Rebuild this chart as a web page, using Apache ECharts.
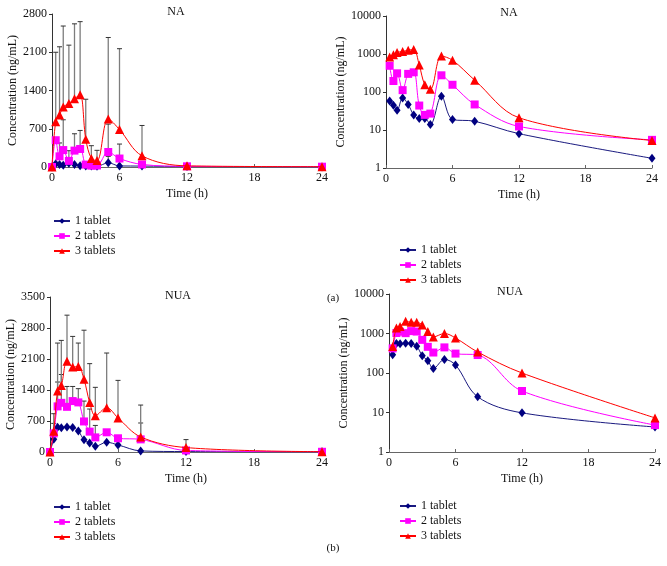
<!DOCTYPE html>
<html>
<head>
<meta charset="utf-8">
<script src="https://cdn.jsdelivr.net/npm/echarts@6/dist/echarts.min.js"></script>
<style>
html,body{margin:0;padding:0;background:#fff;}
#chart{width:667px;height:566px;}
</style>
</head>
<body>
<div id="chart"></div>
<script>
// ---- data ----
var times = [0, 0.33, 0.67, 1, 1.5, 2, 2.5, 3, 3.5, 4, 5, 6, 8, 12, 24];
var seriesNames = ['1 tablet', '2 tablets', '3 tablets'];

var na1 = [0, 58, 45, 33, 70, 47, 25, 20, 20, 14, 77, 19, 17, 8, 1.8];
var na2 = [0, 490, 195, 310, 112, 300, 330, 44, 25, 27, 275, 155, 47, 12.4, 5.5];
var na3 = [0, 830, 950, 1100, 1160, 1250, 1320, 510, 155, 118, 880, 685, 205, 21, 5.3];

// mean + SD (tops of error bars); null = no visible bar
var naTop1 = [null, null, null, null, null, null, null, null, null, null, 195, null, null, null, null];
var naTop2 = [null, null, 440, 864, 298, 608, 669, null, null, null, 785, 420, null, null, null];
var naTop3 = [null, 2100, 2200, 2580, 2230, 2620, 2660, 1240, 390, 305, 2370, 2165, 760, null, null];

var nua1 = [0, 290, 560, 550, 565, 555, 475, 275, 205, 130, 220, 160, 25, 9.8, 4.3];
var nua2 = [0, 420, 1030, 1110, 1020, 1150, 1120, 690, 460, 330, 445, 310, 285, 35, 4.8];
var nua3 = [0, 470, 1380, 1500, 2050, 1920, 1930, 1640, 1120, 820, 1000, 770, 340, 100, 7.3];

var nuaTop1 = [null, null, null, null, null, null, null, null, null, null, null, null, null, null, null];
var nuaTop2 = [null, 646, 1580, 1750, 1480, 1480, 1430, 1150, 970, 600, null, null, 655, null, null];
var nuaTop3 = [null, 865, 2460, 2520, 3090, 2610, 2460, 2750, 1995, 1460, 2235, 1617, 1060, 280, null];

var linTicksNA = {min: 0, max: 2800, interval: 700};
var linTicksNUA = {min: 0, max: 3500, interval: 700};
var xTicks = {min: 0, max: 24, interval: 6};

// ---- styles ----
var FONT = '"Liberation Serif", "DejaVu Serif", serif';
var styles = [
  {color: '#000080', line: '#1a1a80', symbol: 'diamond', size: [7, 9]},
  {color: '#ff00ff', line: '#ff00ff', symbol: 'rect', size: 8},
  {color: '#ff0000', line: '#ff0000', symbol: 'triangle', size: 9}
];

var grids = [
  {left: 52, top: 14, width: 270, height: 153},
  {left: 386, top: 16, width: 266, height: 152},
  {left: 50, top: 297, width: 272, height: 155},
  {left: 389, top: 294, width: 266, height: 158}
];

function plain(v) { return String(v); }

function xAxis(i) {
  return {
    gridIndex: i, type: 'value', min: xTicks.min, max: xTicks.max, interval: xTicks.interval,
    name: 'Time (h)', nameLocation: 'middle', nameGap: 21,
    nameTextStyle: {fontFamily: FONT, fontSize: 12, color: '#111'},
    axisLine: {show: true, lineStyle: {color: '#666', width: 1}},
    axisTick: {show: true, inside: true, length: 3, lineStyle: {color: '#666'}},
    axisLabel: {fontFamily: FONT, fontSize: 12, color: '#111', margin: 5, formatter: plain},
    splitLine: {show: false}
  };
}
function yAxisLin(i, t) {
  return {
    gridIndex: i, type: 'value', min: t.min, max: t.max, interval: t.interval,
    name: 'Concentration (ng/mL)', nameLocation: 'middle', nameGap: 29,
    nameTextStyle: {fontFamily: FONT, fontSize: 12, color: '#111'},
    axisLine: {show: true, lineStyle: {color: '#333', width: 1}},
    axisTick: {show: true, inside: false, length: 3, lineStyle: {color: '#333'}},
    axisLabel: {fontFamily: FONT, fontSize: 12, color: '#111', margin: 5, formatter: plain},
    splitLine: {show: false}
  };
}
function yAxisLog(i) {
  return {
    gridIndex: i, type: 'log', logBase: 10, min: 1, max: 10000,
    name: 'Concentration (ng/mL)', nameLocation: 'middle', nameGap: 33,
    nameTextStyle: {fontFamily: FONT, fontSize: 12, color: '#111'},
    axisLine: {show: true, lineStyle: {color: '#333', width: 1}},
    axisTick: {show: true, inside: false, length: 3, lineStyle: {color: '#333'}},
    axisLabel: {fontFamily: FONT, fontSize: 12, color: '#111', margin: 5, formatter: plain},
    minorTick: {show: false},
    splitLine: {show: false}
  };
}

function pairs(vals, skipZero) {
  var out = [];
  for (var k = 0; k < times.length; k++) {
    if (skipZero && !(vals[k] > 0)) continue;
    out.push([times[k], vals[k]]);
  }
  return out;
}
function lineSeries(gi, si, vals, isLog) {
  var s = styles[si];
  return {
    name: seriesNames[si], type: 'line', xAxisIndex: gi, yAxisIndex: gi,
    data: pairs(vals, isLog), smooth: 0.35,
    symbol: s.symbol, symbolSize: s.size,
    itemStyle: {color: s.color},
    lineStyle: {color: s.line, width: 1},
    z: 3 + si, animation: false
  };
}
function errSeries(gi, vals, tops) {
  var d = [];
  for (var k = 0; k < times.length; k++) {
    if (tops[k] != null) d.push([times[k], vals[k], tops[k]]);
  }
  return {
    type: 'custom', xAxisIndex: gi, yAxisIndex: gi, z: 1, animation: false, silent: true,
    encode: {x: 0, y: [1, 2]},
    data: d,
    renderItem: function (params, api) {
      var p0 = api.coord([api.value(0), api.value(1)]);
      var p1 = api.coord([api.value(0), api.value(2)]);
      return {type: 'group', children: [
        {type: 'line', shape: {x1: p0[0], y1: p0[1], x2: p1[0], y2: p1[1]}, style: {stroke: '#7d7d7d', lineWidth: 1.3}},
        {type: 'line', shape: {x1: p1[0] - 2.5, y1: p1[1], x2: p1[0] + 2.5, y2: p1[1]}, style: {stroke: '#333', lineWidth: 1}}
      ]};
    }
  };
}

var series = [];
series.push(errSeries(0, na1, naTop1), errSeries(0, na2, naTop2), errSeries(0, na3, naTop3));
series.push(lineSeries(0, 0, na1, false), lineSeries(0, 1, na2, false), lineSeries(0, 2, na3, false));
series.push(lineSeries(1, 0, na1, true), lineSeries(1, 1, na2, true), lineSeries(1, 2, na3, true));
series.push(errSeries(2, nua1, nuaTop1), errSeries(2, nua2, nuaTop2), errSeries(2, nua3, nuaTop3));
series.push(lineSeries(2, 0, nua1, false), lineSeries(2, 1, nua2, false), lineSeries(2, 2, nua3, false));
series.push(lineSeries(3, 0, nua1, true), lineSeries(3, 1, nua2, true), lineSeries(3, 2, nua3, true));

function legend(left, top) {
  return {
    orient: 'vertical', left: left, top: top, itemGap: 3, itemWidth: 16, itemHeight: 7,
    data: seriesNames, selectedMode: false,
    textStyle: {fontFamily: FONT, fontSize: 12, color: '#111'}
  };
}

function label(text, x, y, size) {
  return {type: 'text', x: x, y: y, style: {text: text, fill: '#111', font: (size || 12) + 'px ' + FONT, textAlign: 'center', textVerticalAlign: 'middle'}};
}

var option = {
  backgroundColor: '#fff',
  animation: false,
  grid: grids,
  xAxis: [xAxis(0), xAxis(1), xAxis(2), xAxis(3)],
  yAxis: [yAxisLin(0, linTicksNA), yAxisLog(1), yAxisLin(2, linTicksNUA), yAxisLog(3)],
  legend: [legend(48, 210), legend(394, 239), legend(48, 496), legend(394, 495)],
  series: series,
  graphic: [
    label('NA', 176, 12), label('NA', 509, 13),
    label('NUA', 178, 296), label('NUA', 510, 292),
    label('(a)', 333, 298, 11), label('(b)', 333, 548, 11)
  ]
};

var chart = echarts.init(document.getElementById('chart'), null, {renderer: 'canvas'});
chart.setOption(option);
</script>
</body>
</html>
